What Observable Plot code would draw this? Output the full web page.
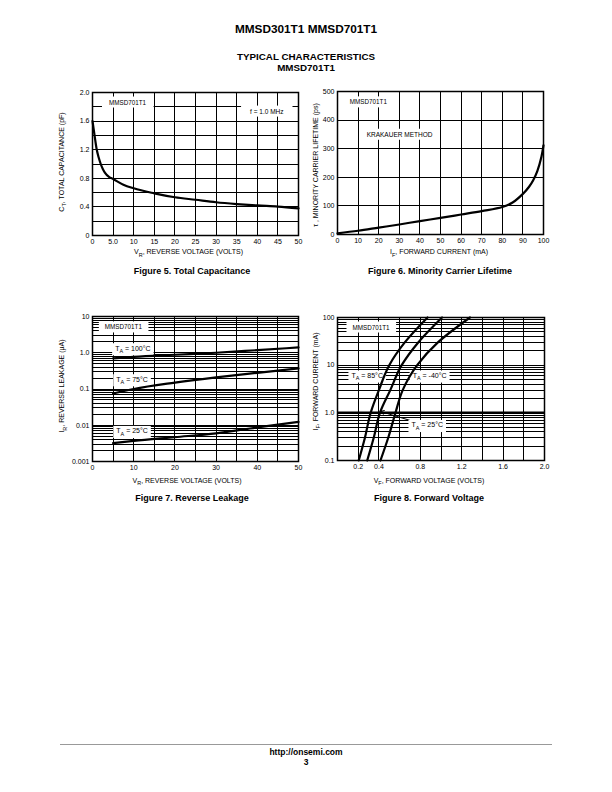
<!DOCTYPE html>
<html><head><meta charset="utf-8">
<script src="https://cdn.jsdelivr.net/npm/d3@7"></script>
<script src="https://cdn.jsdelivr.net/npm/@observablehq/plot@0.6"></script>
<style>
body{margin:0;background:#fff;}
#page{position:relative;width:612px;height:792px;overflow:hidden;background:#fff;}
</style></head><body><div id="page"></div>
<script>
// ---------- Figure 5: Total Capacitance ----------
const vr5 = [0,0.5,1,1.5,2,2.5,3,4,5,7.5,10,15,20,25,30,35,40,45,50];
const ct5 = [1.6,1.4,1.21,1.09,1.0,0.93,0.88,0.82,0.79,0.71,0.66,0.59,0.535,0.5,0.465,0.44,0.42,0.405,0.38];
const xTicks5 = [0,5,10,15,20,25,30,35,40,45,50];
const xLabels5 = ["0","5.0","10","15","20","25","30","35","40","45","50"];
const yTicks5 = [0,0.4,0.8,1.2,1.6,2.0];
const yLabels5 = ["0","0.4","0.8","1.2","1.6","2.0"];

// ---------- Figure 6: Minority Carrier Lifetime ----------
const if6 = [0,10,20,30,40,50,60,70,80,85,90,93,95,97,99,100];
const tau6 = [4,13,24,35,47,58,70,82,96,112,142,167,190,222,272,312];
const xTicks6 = [0,10,20,30,40,50,60,70,80,90,100];
const xLabels6 = ["0","10","20","30","40","50","60","70","80","90","100"];
const yTicks6 = [0,100,200,300,400,500];
const yLabels6 = ["0","100","200","300","400","500"];

// ---------- Figure 7: Reverse Leakage ----------
const vr7 = [5,10,20,30,40,50];
const ir7_100 = [0.70,0.77,0.88,1.0,1.18,1.40];
const ir7_75 = [0.075,0.10,0.15,0.21,0.28,0.37];
const ir7_25 = [0.0032,0.0037,0.0047,0.006,0.0087,0.0124];
const xTicks7 = [0,10,20,30,40,50];
const xLabels7 = ["0","10","20","30","40","50"];
const yTicks7 = [0.001,0.01,0.1,1,10];
const yLabels7 = ["0.001","0.01","0.1","1.0","10"];

// ---------- Figure 8: Forward Voltage ----------
const if8 = [0.1,0.3,1,3,10,30,100];
const vf8_85 = [0.205,0.265,0.32,0.40,0.50,0.65,0.87];
const vf8_25 = [0.287,0.35,0.41,0.51,0.62,0.78,1.01];
const vf8_m40 = [0.415,0.49,0.56,0.63,0.77,0.97,1.28];
const xTicks8 = [0.2,0.4,0.8,1.2,1.6,2.0];
const xLabels8 = ["0.2","0.4","0.8","1.2","1.6","2.0"];
const yTicks8 = [0.1,1,10,100];
const yLabels8 = ["0.1","1.0","10","100"];

const FONT = '"Liberation Sans", Arial, Helvetica, sans-serif';
const page = document.getElementById("page");

function rich(sel, str, fs){
  const parts = str.split(/_\{([^}]*)\}/);
  let shifted = false;
  parts.forEach((p,i)=>{
    if(i%2===0){
      if(!p) return;
      const ts = sel.append("tspan").text(p);
      if(shifted){ ts.attr("dy", -fs*0.3); shifted=false; }
    } else {
      sel.append("tspan").attr("dy", fs*0.3).attr("font-size", fs*0.78).text(p);
      shifted = true;
    }
  });
}

function pts(xs, ys){ return xs.map((v,i)=>({x:v, y:ys[i]})); }

function chart(cfg){
  const {L,T,W,H,x,y,gridX,gridY,xTicks,xLabels,yTicks,yLabels,series,annots,extra=[],curve="monotone-x"} = cfg;
  const ml=40, mr=10, mt=10, mb=30;
  const xm = new Map(xTicks.map((v,i)=>[v,xLabels[i]]));
  const ym = new Map(yTicks.map((v,i)=>[v,yLabels[i]]));
  const plot = Plot.plot({
    width: W+ml+mr, height: H+mt+mb,
    marginLeft: ml, marginRight: mr, marginTop: mt, marginBottom: mb,
    x, y,
    style: {fontFamily: FONT, fontSize: "7px", background: "transparent", overflow: "visible", color:"#000"},
    marks: [
      Plot.ruleX(gridX, {stroke:"#000", strokeWidth:1, shapeRendering:"crispEdges"}),
      Plot.ruleY(gridY, {stroke:"#000", strokeWidth:1, shapeRendering:"crispEdges"}),
      ...extra,
      Plot.text(annots, {x:"x", y:"y", text:"label", fontSize:"fs", fill:"#000"}),
      Plot.frame({stroke:"#000", strokeWidth:1.5}),
      Plot.axisX(xTicks, {tickSize:0, tickPadding:4, tickFormat:d=>xm.get(d), label:null, fontSize:7}),
      Plot.axisY(yTicks, {tickSize:0, tickPadding:3, tickFormat:d=>ym.get(d), label:null, fontSize:7}),
      ...series.map(s => Plot.line(s, {x:"x", y:"y", stroke:"#000", strokeWidth:2.2, curve}))
    ]
  });
  const div = document.createElement("div");
  div.style.cssText = `position:absolute;left:${L-ml}px;top:${T-mt}px;`;
  div.appendChild(plot);
  page.appendChild(div);
  // white label boxes behind annotation texts
  d3.select(plot).selectAll('g[aria-label="text"] text').each(function(d,i){
    const a = annots[i]; if(!a) return;
    const t = d3.select(this);
    const s = t.text();
    if(s.includes("_{")){ t.text(""); rich(t, s, a.fs); }
    const b = this.getBBox();
    const r = document.createElementNS("http://www.w3.org/2000/svg","rect");
    r.setAttribute("x", b.x - a.px); r.setAttribute("y", b.y - a.py);
    r.setAttribute("width", b.width + 2*a.px); r.setAttribute("height", b.height + 2*a.py);
    r.setAttribute("fill", "#fff");
    if(this.getAttribute("transform")) r.setAttribute("transform", this.getAttribute("transform"));
    this.parentNode.insertBefore(r, this);
  });
  return plot;
}

// Figure 5
chart({L:92,T:92,W:206,H:143,
  x:{domain:[0,50]}, y:{domain:[0,2]},
  gridX:d3.range(5,50,5), gridY:[0.2,0.4,0.6,0.8,1.0,1.2,1.4,1.6,1.8],
  xTicks:xTicks5, xLabels:xLabels5, yTicks:yTicks5, yLabels:yLabels5,
  series:[pts(vr5,ct5)],
  annots:[{x:8.5,y:1.86,label:"MMSD701T1",fs:6.3,px:7,py:2},{x:42.3,y:1.734,label:"f = 1.0 MHz",fs:6.5,px:9,py:2}]
});
// Figure 6
chart({L:337,T:91,W:206,H:143,
  x:{domain:[0,100]}, y:{domain:[0,500]},
  gridX:d3.range(10,100,10), gridY:[100,200,300,400],
  xTicks:xTicks6, xLabels:xLabels6, yTicks:yTicks6, yLabels:yLabels6,
  curve:"catmull-rom",
  series:[pts(if6,tau6)],
  annots:[{x:15,y:462,label:"MMSD701T1",fs:6.3,px:3,py:2},{x:30.1,y:349,label:"KRAKAUER METHOD",fs:6.5,px:3,py:2}]
});
// Figure 7
const grid7 = [0.001,0.01,0.1,1].flatMap(d=>[1,2,3,4,5,6,7,8,9].map(k=>k*d)).filter(v=>v>0.0011 && v<9.9);
chart({L:92,T:316,W:206,H:145,
  x:{domain:[0,50]}, y:{type:"log", domain:[0.001,10]},
  gridX:d3.range(5,50,5), gridY:grid7,
  xTicks:xTicks7, xLabels:xLabels7, yTicks:yTicks7, yLabels:yLabels7,
  series:[pts(vr7,ir7_100), pts(vr7,ir7_75), pts(vr7,ir7_25)],
  annots:[{x:7.5,y:5,label:"MMSD701T1",fs:6.3,px:6,py:2},
          {x:9.8,y:1.31,label:"T_{A} = 100°C",fs:7,px:3,py:1.5},
          {x:9.6,y:0.183,label:"T_{A} = 75°C",fs:7,px:3,py:1.5},
          {x:9.6,y:0.00686,label:"T_{A} = 25°C",fs:7,px:3,py:1.5}]
});
// Figure 8
const grid8 = [0.1,1,10].flatMap(d=>[1,2,3,4,5,6,7,8,9].map(k=>k*d)).filter(v=>v>0.11 && v<99);
chart({L:337,T:317,W:207,H:143,
  x:{domain:[0,2]}, y:{type:"log", domain:[0.1,100]},
  gridX:[0.2,0.4,0.6,0.8,1.0,1.2,1.4,1.6,1.8], gridY:grid8,
  xTicks:xTicks8, xLabels:xLabels8, yTicks:yTicks8, yLabels:yLabels8,
  curve:"monotone-y",
  extra:[
    Plot.ruleY([1], {stroke:"#000", strokeWidth:2.5}),
    Plot.arrow([{x1:0.705,y1:0.69,x2:0.415,y2:1.07}], {x1:"x1",y1:"y1",x2:"x2",y2:"y2",stroke:"#000",strokeWidth:1,headLength:6})
  ],
  series:[pts(vf8_85,if8), pts(vf8_25,if8), pts(vf8_m40,if8)],
  annots:[{x:0.324,y:61.7,label:"MMSD701T1",fs:6.3,px:6,py:2},
          {x:0.287,y:6,label:"T_{A} = 85°C",fs:7,px:3,py:1.5},
          {x:0.89,y:6,label:"T_{A} = -40°C",fs:7,px:3,py:1.5},
          {x:0.867,y:0.55,label:"T_{A} = 25°C",fs:7,px:3,py:1.5}]
});

// ---------- overlay text ----------
const ov = d3.select(page).append("svg").attr("width",612).attr("height",792)
  .style("position","absolute").style("left","0px").style("top","0px")
  .attr("font-family", FONT);
function label(x, y, str, {size=7, weight="normal", rotate=false}={}){
  const g = ov.append("g").attr("transform", `translate(${x},${y})` + (rotate ? " rotate(-90)" : ""));
  const t = g.append("text").attr("text-anchor","middle").attr("font-size",size).attr("font-weight",weight)
    .attr("y", size*0.35).attr("fill","#000");
  rich(t, str, size);
}
label(306, 29, "MMSD301T1 MMSD701T1", {size:11.8, weight:"bold"});
label(306, 57, "TYPICAL CHARACTERISTICS", {size:9.8, weight:"bold"});
label(306, 67.5, "MMSD701T1", {size:9.8, weight:"bold"});

label(188.5, 252, "V_{R}, REVERSE VOLTAGE (VOLTS)");
label(61.5, 162, "C_{T}, TOTAL CAPACITANCE (pF)", {rotate:true});
label(439, 252, "I_{F}, FORWARD CURRENT (mA)");
label(316, 165, "τ , MINORITY CARRIER LIFETIME (ps)", {rotate:true});
label(187, 480.5, "V_{R}, REVERSE VOLTAGE (VOLTS)");
label(62, 386, "I_{R}, REVERSE LEAKAGE (μA)", {rotate:true});
label(429, 480.5, "V_{F}, FORWARD VOLTAGE (VOLTS)");
label(315.5, 381.5, "I_{F}, FORWARD CURRENT (mA)", {rotate:true});

label(192, 270.5, "Figure 5. Total Capacitance", {size:9, weight:"bold"});
label(440, 270.5, "Figure 6. Minority Carrier Lifetime", {size:9, weight:"bold"});
label(192, 497.5, "Figure 7. Reverse Leakage", {size:9, weight:"bold"});
label(429, 497.5, "Figure 8. Forward Voltage", {size:9, weight:"bold"});

ov.append("line").attr("x1",60).attr("x2",552).attr("y1",744.5).attr("y2",744.5).attr("stroke","#999").attr("stroke-width",1);
label(306, 752, "http://onsemi.com", {size:8.5, weight:"bold"});
label(306, 762, "3", {size:8.5, weight:"bold"});
</script></body></html>
